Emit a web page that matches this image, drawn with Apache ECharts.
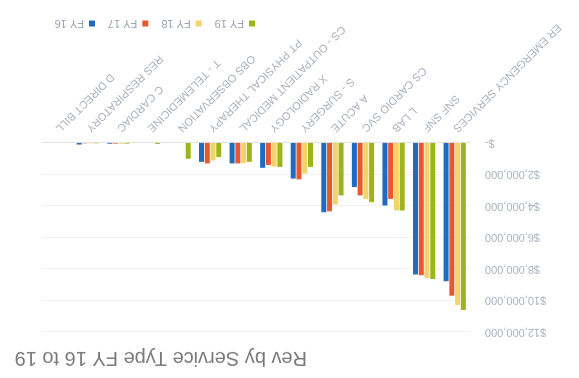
<!DOCTYPE html>
<html>
<head>
<meta charset="utf-8">
<script src="https://cdn.jsdelivr.net/npm/echarts@6/dist/echarts.min.js"></script>
<style>
  html, body { margin: 0; padding: 0; background: #ffffff; }
  #wrap { width: 579px; height: 378px; transform: rotate(180deg); }
  #chart { width: 579px; height: 378px; }
</style>
</head>
<body>
<div id="wrap"><div id="chart"></div></div>
<script>
// service types, largest first (the picture itself is upside down)
const categories = [
  'ER EMERGENCY SERVICES', 'SNF SNF', 'L LAB', 'CS CARDIO SVC', 'A ACUTE',
  'S - SURGERY', 'X RADIOLOGY', 'CS - OUTPATIENT MEDICAL', 'PT PHYSICAL THERAPY',
  'OBS OBSERVATION', 'T - TELEMEDICINE', 'C CARDIAC', 'RES RESPIRATORY', 'D DIRECT BILL'
];
const fy19 = [10600000, 8630000, 4290000, 3760000, 3330000, 1520000, 1520000, 1200000, 900000, 1000000, 60000, 40000, 20000, 0];
const fy18 = [10280000, 8570000, 4290000, 3550000, 3910000, 1940000, 1500000, 1280000, 1100000, 0, 0, 50000, 20000, 0];
const fy17 = [9700000, 8400000, 3550000, 3330000, 4340000, 2310000, 1400000, 1300000, 1300000, 0, 0, 40000, 20000, 0];
const fy16 = [8780000, 8350000, 3970000, 2800000, 4400000, 2260000, 1580000, 1300000, 1200000, 0, 0, 50000, 100000, 0];
const yTicks = [0, 2000000, 4000000, 6000000, 8000000, 10000000, 12000000];

const chart = echarts.init(document.getElementById('chart'));

const labelColor = '#a9b1bf';
const fontFamily = '"Liberation Sans", Arial, sans-serif';

const bar = (name, data, color) => ({
  name: name,
  type: 'bar',
  data: data,
  barWidth: 5,
  barGap: '15%',
  itemStyle: { color: color }
});

const option = {
  animation: false,
  textStyle: { fontFamily: fontFamily },
  title: {
    text: 'Rev by Service Type FY 16 to 19',
    left: 267,
    top: 5,
    textStyle: { fontSize: 20, fontWeight: 'normal', color: '#7a7a7a', fontFamily: fontFamily }
  },
  legend: {
    data: ['FY 19', 'FY 18', 'FY 17', 'FY 16'],
    left: 324,
    top: 349,
    padding: 0,
    icon: 'rect',
    itemWidth: 6,
    itemHeight: 6,
    itemGap: 13,
    textStyle: { fontSize: 11, color: '#9aa2b0' }
  },
  grid: { left: 109, right: 42, top: 46, bottom: 143, containLabel: false },
  xAxis: {
    type: 'category',
    data: categories,
    axisTick: { show: false },
    axisLine: { lineStyle: { color: '#e2e2e2' } },
    axisLabel: { rotate: 45, fontSize: 11, color: labelColor, margin: 13, interval: 0 }
  },
  yAxis: {
    type: 'value',
    min: yTicks[0],
    max: yTicks[yTicks.length - 1],
    interval: yTicks[1] - yTicks[0],
    axisLine: { show: false },
    axisTick: { show: false },
    splitLine: { lineStyle: { color: '#f0f0f0' } },
    axisLabel: {
      fontSize: 11,
      color: labelColor,
      margin: 15,
      formatter: v => v === 0 ? '$-' : '$' + v.toLocaleString('en-US')
    }
  },
  series: [
    bar('FY 19', fy19, '#9db41a'),
    bar('FY 18', fy18, '#f3d36a'),
    bar('FY 17', fy17, '#e9582a'),
    bar('FY 16', fy16, '#1f6bc0')
  ]
};

chart.setOption(option);
</script>
</body>
</html>
